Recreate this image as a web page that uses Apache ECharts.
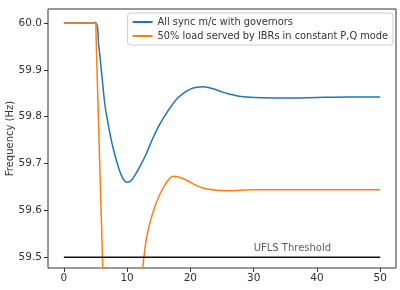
<!DOCTYPE html>
<html>
<head>
<meta charset="utf-8">
<script src="https://cdn.jsdelivr.net/npm/echarts@6/dist/echarts.min.js"></script>
<style>
  html, body { margin: 0; padding: 0; background: #fff; }
  #chart { width: 400px; height: 290px; }
</style>
</head>
<body>
<div id="chart"></div>
<script>
// time (s) and frequency (Hz)
const tSync = [0, 5, 5.5, 6, 6.5, 7, 7.5, 8, 8.5, 9, 9.5, 10, 10.5, 11, 12, 13, 14, 15, 16, 17, 18, 19, 20, 21, 22, 23, 24, 25, 26, 27, 28, 30, 33, 36, 40, 45, 50]
const fSync = [60.0, 60.0, 59.955, 59.89, 59.825, 59.785, 59.75, 59.722, 59.698, 59.678, 59.665, 59.66, 59.662, 59.67, 59.693, 59.72, 59.752, 59.78, 59.803, 59.823, 59.84, 59.851, 59.859, 59.863, 59.864, 59.862, 59.858, 59.853, 59.849, 59.846, 59.843, 59.841, 59.840, 59.840, 59.841, 59.842, 59.842]

const tIbr = [0, 5, 5.05, 5.1, 5.5, 6, 6.5, 7, 8, 9, 10, 11, 12, 12.5, 13, 13.5, 14, 14.5, 15, 15.5, 16, 16.5, 17, 17.5, 18, 19, 20, 21, 22, 23, 24, 26, 28, 30, 40, 50]
const fIbr = [60.0, 60.0, 60.003, 59.97, 59.78, 59.55, 59.33, 59.18, 59.0, 58.95, 59.05, 59.22, 59.40, 59.48, 59.535, 59.568, 59.592, 59.612, 59.629, 59.643, 59.655, 59.665, 59.671, 59.673, 59.672, 59.667, 59.66, 59.653, 59.648, 59.645, 59.643, 59.642, 59.643, 59.644, 59.644, 59.644]

const tUfls = [0, 50]
const fUfls = [59.5, 59.5]

const xTicks = [0, 10, 20, 30, 40, 50]
const yTicks = [59.5, 59.6, 59.7, 59.8, 59.9, 60.0]

const names = ['All sync m/c with governors', '50% load served by IBRs in constant P,Q mode']

function pairs(xs, ys) {
  return xs.map((x, i) => [x, ys[i]])
}

var myChart = echarts.init(document.getElementById('chart'))
var font = 'DejaVu Sans'

var option = {
  animation: false,
  textStyle: { fontFamily: font },
  grid: {
    left: 48, right: 4, top: 9, bottom: 22,
    outerBoundsMode: 'none',
    containLabel: false,
    show: true, borderColor: '#333', borderWidth: 1
  },
  legend: {
    data: names,
    orient: 'vertical',
    right: 7, top: 13,
    borderColor: '#ccc', borderWidth: 1, borderRadius: 3,
    padding: [4, 5],
    itemGap: 4,
    itemWidth: 20, itemHeight: 2,
    icon: 'rect',
    textStyle: { fontSize: 9.8, color: '#333', fontFamily: font }
  },
  xAxis: {
    type: 'value',
    min: -2.5, max: 52.5,
    splitLine: { show: false },
    axisLine: { show: false, onZero: false },
    axisTick: { show: true, length: 4, lineStyle: { color: '#333' }, customValues: xTicks },
    axisLabel: { customValues: xTicks, fontSize: 10.5, color: '#333', margin: 5 }
  },
  yAxis: {
    type: 'value',
    min: 59.477, max: 60.03,
    name: 'Frequency (Hz)',
    nameLocation: 'middle',
    nameGap: 33,
    nameMoveOverlap: false,
    nameTextStyle: { fontSize: 10, color: '#333' },
    splitLine: { show: false },
    axisLine: { show: false, onZero: false },
    axisTick: { show: true, length: 4, lineStyle: { color: '#333' }, customValues: yTicks },
    axisLabel: {
      customValues: yTicks, fontSize: 10.5, color: '#333', margin: 6,
      formatter: v => v.toFixed(1)
    }
  },
  series: [
    {
      name: names[0], type: 'line', data: pairs(tSync, fSync),
      showSymbol: false, symbol: 'none', smooth: 0.3,
      lineStyle: { color: '#1f77b4', width: 1.5 }, itemStyle: { color: '#1f77b4' }
    },
    {
      name: names[1], type: 'line', data: pairs(tIbr, fIbr),
      showSymbol: false, symbol: 'none', smooth: 0.3,
      lineStyle: { color: '#ff7f0e', width: 1.5 }, itemStyle: { color: '#ff7f0e' }
    },
    {
      name: 'UFLS', type: 'line', data: pairs(tUfls, fUfls),
      showSymbol: false, symbol: 'none',
      lineStyle: { color: '#111', width: 1.5 }
    },
    {
      name: 'UFLS label', type: 'scatter', symbolSize: 0,
      data: [[30, 59.518]],
      label: {
        show: true, position: 'right', distance: 0,
        formatter: 'UFLS Threshold', fontSize: 10, color: '#333', fontFamily: font
      }
    }
  ]
}

myChart.setOption(option)
</script>
</body>
</html>
